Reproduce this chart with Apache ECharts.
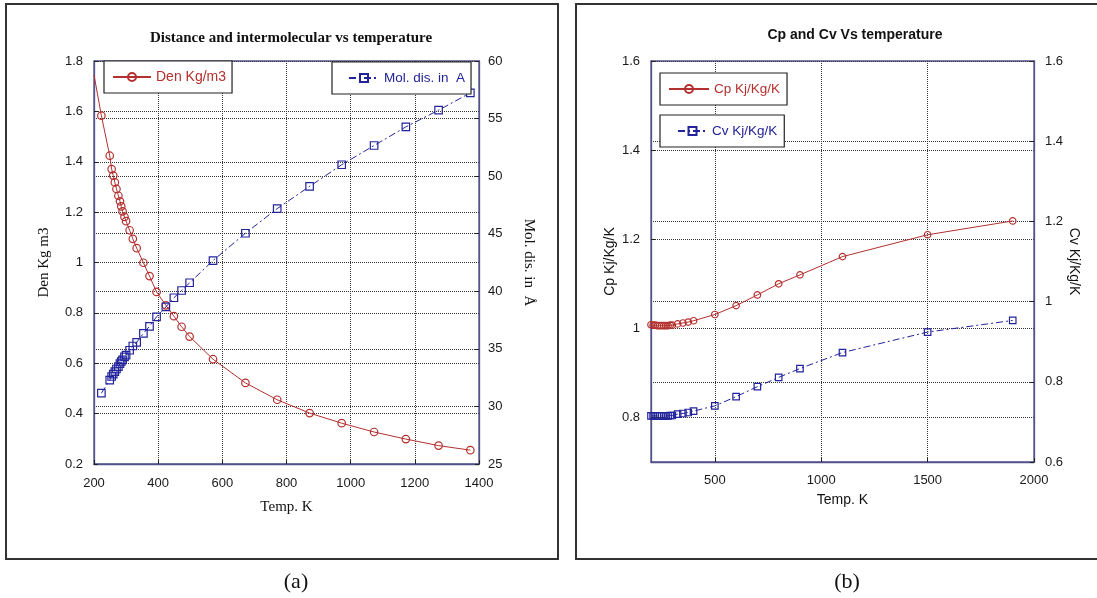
<!DOCTYPE html>
<html>
<head>
<meta charset="utf-8">
<script src="https://cdn.jsdelivr.net/npm/echarts@6/dist/echarts.min.js"></script>
<style>
  html, body { margin: 0; padding: 0; background: #fff; }
  #chart { width: 1097px; height: 598px; }
</style>
</head>
<body>
<div id="chart"></div>
<script>
// (a) density and intermolecular distance vs temperature
const tempDen = [200, 223, 249, 255, 260, 265, 270, 276, 281, 285, 289, 295, 300, 311, 321, 333, 354, 373, 395,
  424, 449, 473, 498, 571, 672, 771, 872, 972, 1073, 1172, 1274, 1373];
const density = [1.745, 1.583, 1.424, 1.371, 1.345, 1.318, 1.292, 1.265, 1.243, 1.223, 1.203, 1.181, 1.164, 1.128,
  1.094, 1.057, 0.999, 0.946, 0.883, 0.830, 0.787, 0.745, 0.706, 0.616, 0.522, 0.455, 0.402, 0.362, 0.327,
  0.299, 0.273, 0.255];
const tempMol = [223, 249, 255, 260, 265, 270, 276, 281, 285, 289, 295, 300, 311, 321, 333, 354, 373, 395,
  424, 449, 473, 498, 571, 672, 771, 872, 972, 1073, 1172, 1274, 1373];
const molDist = [31.15, 32.28, 32.6, 32.8, 33.03, 33.25, 33.45, 33.72, 33.9, 34.05, 34.3, 34.45, 34.88, 35.25,
  35.56, 36.35, 36.95, 37.78, 38.64, 39.44, 40.07, 40.74, 42.67, 45.04, 47.18, 49.11, 50.99, 52.66, 54.28,
  55.73, 57.23];

// (b) Cp and Cv vs temperature
const tempHeat = [200, 210, 220, 230, 240, 250, 260, 270, 280, 290, 300, 325, 350, 375, 400,
  500, 600, 700, 800, 900, 1100, 1500, 1900];
const cp = [1.008, 1.007, 1.007, 1.006, 1.006, 1.006, 1.006, 1.006, 1.006, 1.007, 1.007, 1.010, 1.012, 1.014, 1.017,
  1.031, 1.051, 1.075, 1.100, 1.120, 1.161, 1.210, 1.241];
const cv = [0.715, 0.715, 0.715, 0.715, 0.715, 0.715, 0.715, 0.715, 0.715, 0.716, 0.716, 0.7195, 0.721, 0.7235, 0.727,
  0.740, 0.763, 0.788, 0.811, 0.833, 0.873, 0.924, 0.953];

const tempTicksB = [500, 1000, 1500, 2000];
const cpTicks = [0.8, 1, 1.2, 1.4, 1.6];

const RED = '#b3302e';
const BLUE = '#23239c';
const AXIS = '#52528c';
const GRIDLINE = '#333';

const pairs = (xs, ys) => xs.map((x, i) => [x, ys[i]]);
const plain = v => String(Math.round(v * 1000) / 1000);

function axis(opts, labelMargin, nameFont, custom) {
  const tick = { show: true, inside: true, length: 4, lineStyle: { color: '#222' } };
  const label = { color: '#1a1a1a', fontFamily: 'Liberation Sans', fontSize: 13, margin: labelMargin, formatter: plain };
  if (custom) {
    tick.customValues = custom;
    label.customValues = custom;
  }
  return Object.assign({
    type: 'value',
    nameLocation: 'middle',
    nameTextStyle: Object.assign({ color: '#111' }, nameFont),
    axisLine: { show: true, onZero: false, lineStyle: { color: AXIS, width: 1.3 } },
    axisTick: tick,
    axisLabel: label,
    splitLine: { show: true, lineStyle: { color: GRIDLINE, type: 'dotted', width: 1 } }
  }, opts);
}

const serifName = { fontFamily: 'Liberation Serif', fontSize: 15 };
const sansName = { fontFamily: 'Liberation Sans', fontSize: 14 };

const openMarker = color => ({ color: 'rgba(255,255,255,0)', borderColor: color, borderWidth: 1.2 });

function legendBox(name, left, top, color, padding, itemWidth, fontSize) {
  return {
    data: [name], left: left, top: top, orient: 'horizontal',
    selectedMode: false,
    backgroundColor: '#fff', borderColor: '#222', borderWidth: 1.2,
    padding: padding, itemWidth: itemWidth, itemHeight: 10, itemGap: 0,
    textStyle: { color: color, fontFamily: 'Liberation Sans', fontSize: fontSize }
  };
}

const chart = echarts.init(document.getElementById('chart'));
chart.setOption({
  animation: false,
  backgroundColor: '#fff',
  title: [
    { text: 'Distance and intermolecular vs temperature', left: 286, top: 26, textAlign: 'center',
      textStyle: { fontFamily: 'Liberation Serif', fontWeight: 'bold', fontSize: 15, color: '#111' } },
    { text: 'Cp and Cv Vs temperature', left: 850, top: 23, textAlign: 'center',
      textStyle: { fontFamily: 'Liberation Sans', fontWeight: 'bold', fontSize: 14, color: '#111' } }
  ],
  legend: [
    legendBox('Den Kg/m3', 104, 61, RED, [9, 6, 9, 8], 38, 14),
    legendBox('Mol. dis. in  A', 332, 62, BLUE, [9, 6, 9, 16], 30, 13.5),
    legendBox('Cp Kj/Kg/K', 660, 73, RED, [9, 7, 9, 8], 40, 13.5),
    legendBox('Cv Kj/Kg/K', 660, 115, BLUE, [9, 7, 9, 17], 29, 13.5)
  ],
  grid: [
    { left: 94, top: 61, width: 385, height: 403, show: true, borderColor: AXIS, borderWidth: 1.3 },
    { left: 651, top: 61, width: 383, height: 401, show: true, borderColor: AXIS, borderWidth: 1.3 }
  ],
  xAxis: [
    axis({ gridIndex: 0, min: 200, max: 1400, interval: 200, name: 'Temp. K', nameGap: 36 }, 13, serifName),
    axis({ gridIndex: 1, min: 200, max: 2000, name: 'Temp. K', nameGap: 31 }, 12, sansName, tempTicksB)
  ],
  yAxis: [
    axis({ gridIndex: 0, position: 'left', min: 0.2, max: 1.8, interval: 0.2, name: 'Den Kg m3', nameGap: 42 }, 11, serifName),
    axis({ gridIndex: 0, position: 'right', min: 25, max: 60, interval: 5, name: 'Mol. dis. in  Å',
      nameGap: 42, nameRotate: -90 }, 9, serifName),
    axis({ gridIndex: 1, position: 'left', min: 0.7, max: 1.6, name: 'Cp Kj/Kg/K', nameGap: 34 }, 11, sansName, cpTicks),
    axis({ gridIndex: 1, position: 'right', min: 0.6, max: 1.6, interval: 0.2, name: 'Cv Kj/Kg/K',
      nameGap: 32, nameRotate: -90 }, 11, sansName)
  ],
  series: [
    { name: 'Den Kg/m3', type: 'line', xAxisIndex: 0, yAxisIndex: 0, data: pairs(tempDen, density),
      symbol: 'circle', symbolSize: (v, p) => (p.dataIndex === 0 ? 0 : 7.5),
      itemStyle: openMarker(RED), lineStyle: { color: RED, width: 1 } },
    { name: 'Mol. dis. in  A', type: 'line', xAxisIndex: 0, yAxisIndex: 1, data: pairs(tempMol, molDist),
      symbol: 'rect', symbolSize: 7.5,
      itemStyle: openMarker(BLUE), lineStyle: { color: BLUE, width: 1, type: [7, 3, 2, 3] } },
    { name: 'Cp Kj/Kg/K', type: 'line', xAxisIndex: 1, yAxisIndex: 2, data: pairs(tempHeat, cp),
      symbol: 'circle', symbolSize: 6.5,
      itemStyle: openMarker(RED), lineStyle: { color: RED, width: 1 } },
    { name: 'Cv Kj/Kg/K', type: 'line', xAxisIndex: 1, yAxisIndex: 3, data: pairs(tempHeat, cv),
      symbol: 'rect', symbolSize: 6.5,
      itemStyle: openMarker(BLUE), lineStyle: { color: BLUE, width: 1, type: [7, 3, 2, 3] } }
  ],
  graphic: [
    { type: 'rect', z: -10, silent: true, shape: { x: 6, y: 4, width: 552, height: 555 },
      style: { fill: 'none', stroke: '#333', lineWidth: 2 } },
    { type: 'rect', z: -10, silent: true, shape: { x: 576, y: 4, width: 530, height: 555 },
      style: { fill: 'none', stroke: '#333', lineWidth: 2 } },
    { type: 'text', x: 296, y: 582, silent: true,
      style: { text: '(a)', font: '22px "Liberation Serif"', fill: '#111', align: 'center', verticalAlign: 'middle',
        textAlign: 'center', textVerticalAlign: 'middle' } },
    { type: 'text', x: 847, y: 582, silent: true,
      style: { text: '(b)', font: '22px "Liberation Serif"', fill: '#111', align: 'center', verticalAlign: 'middle',
        textAlign: 'center', textVerticalAlign: 'middle' } }
  ]
});
window.addEventListener('resize', () => chart.resize());
</script>
</body>
</html>
